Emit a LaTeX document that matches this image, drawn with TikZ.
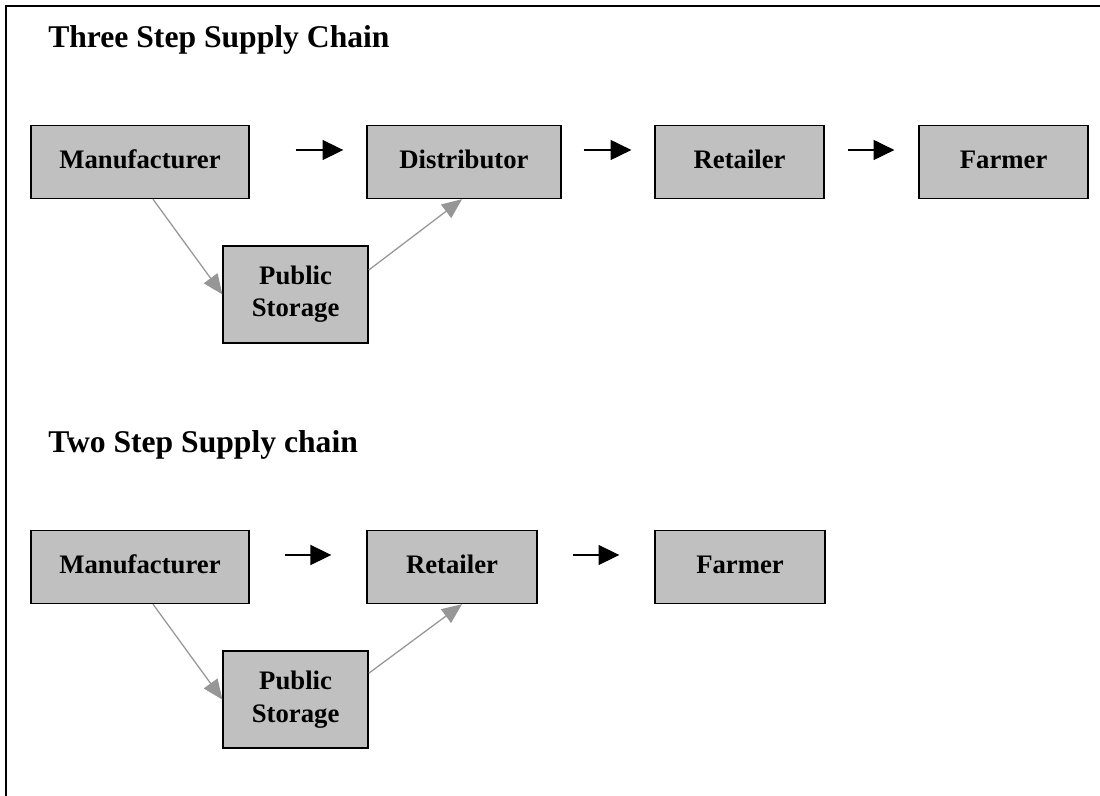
\documentclass[tikz,border=0pt]{standalone}
\usepackage{fontspec}
\setmainfont{Liberation Serif}
\usetikzlibrary{arrows.meta}

\definecolor{boxgray}{HTML}{C0C0C0}
\definecolor{linkgray}{HTML}{969696}

\begin{document}
\begin{tikzpicture}[
    grayrect/.style={draw, line width=1pt, fill=boxgray, align=center,
        font=\fontsize{19pt}{23pt}\selectfont\bfseries},
    stage/.style={grayrect, minimum height=1.825cm, text height=13.3pt, text depth=4.75pt},
    store/.style={grayrect, minimum width=3.625cm, minimum height=2.425cm},
    flow/.style={line width=0.9pt, -{Triangle[length=0.52cm, width=0.5cm]}},
    link/.style={draw=linkgray, line width=0.9pt,
        -{Triangle[length=0.5cm, width=0.42cm, fill=linkgray]}},
    heading/.style={anchor=base west, inner sep=0pt,
        font=\fontsize{22.5pt}{27pt}\selectfont\bfseries}
]
    \useasboundingbox (0, 0) rectangle (27.5, -19.9);
    \draw[line width=1.4pt] (0.15, -20.5) -- (0.15, -0.15) -- (28, -0.15);

    % three step chain
    \node[heading] (H1) at (1.2, -1.2) {Three Step Supply Chain};
    \node[stage, minimum width=5.45cm] (M1) at (3.5, -4.05) {Manufacturer};
    \node[stage, minimum width=4.85cm] (D1) at (11.6, -4.05) {Distributor};
    \node[stage, minimum width=4.225cm] (R1) at (18.49, -4.05) {Retailer};
    \node[stage, minimum width=4.225cm] (F1) at (25.09, -4.05) {Farmer};
    \node[store] (P1) at (7.39, -7.36) {Public\\Storage};

    \draw[flow, shorten <=1.15cm, shorten >=0.575cm] ([yshift=0.3cm]M1.east) -- ([yshift=0.3cm]D1.west);
    \draw[flow, shorten <=0.55cm, shorten >=0.575cm] ([yshift=0.3cm]D1.east) -- ([yshift=0.3cm]R1.west);
    \draw[flow, shorten <=0.575cm, shorten >=0.6cm] ([yshift=0.3cm]R1.east) -- ([yshift=0.3cm]F1.west);
    \draw[link] ([xshift=0.325cm]M1.south) -- (P1.west);
    \draw[link] ([yshift=0.61cm]P1.east) -- ([xshift=-0.05cm]D1.south);

    % two step chain
    \node[heading] (H2) at (1.2, -11.325) {Two Step Supply chain};
    \node[stage, minimum width=5.45cm] (M2) at (3.5, -14.175) {Manufacturer};
    \node[stage, minimum width=4.25cm] (R2) at (11.3, -14.175) {Retailer};
    \node[stage, minimum width=4.25cm] (F2) at (18.5, -14.175) {Farmer};
    \node[store] (P2) at (7.39, -17.49) {Public\\Storage};

    \draw[flow, shorten <=0.875cm, shorten >=0.875cm] ([yshift=0.3cm]M2.east) -- ([yshift=0.3cm]R2.west);
    \draw[flow, shorten <=0.875cm, shorten >=0.875cm] ([yshift=0.3cm]R2.east) -- ([yshift=0.3cm]F2.west);
    \draw[link] ([xshift=0.325cm]M2.south) -- (P2.west);
    \draw[link] ([yshift=0.66cm]P2.east) -- ([xshift=0.25cm]R2.south);
\end{tikzpicture}
\end{document}
